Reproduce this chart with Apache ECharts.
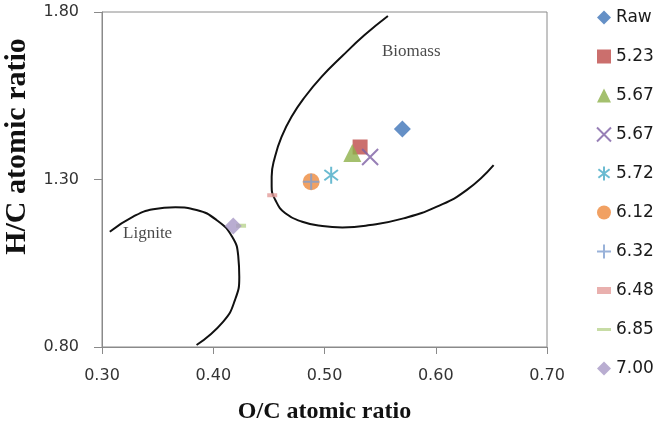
<!DOCTYPE html>
<html>
<head>
<meta charset="utf-8">
<script src="https://cdn.jsdelivr.net/npm/echarts@6/dist/echarts.min.js"></script>
<style>
  html, body { margin: 0; padding: 0; background: #fff; }
  #main { width: 670px; height: 423px; }
</style>
</head>
<body>
<div id="main"></div>
<script>
// sample labels and their [O/C, H/C] points
const sampleNames = ["Raw", "5.23", "5.67", "5.67 ", "5.72", "6.12", "6.32", "6.48", "6.85", "7.00"];
const sampleOC = [0.570, 0.532, 0.525, 0.541, 0.506, 0.488, 0.488, 0.453, 0.425, 0.418];
const sampleHC = [1.451, 1.397, 1.379, 1.367, 1.313, 1.293, 1.293, 1.253, 1.162, 1.161];

// region boundaries (Van Krevelen diagram)
const biomassOC = [0.557, 0.536, 0.5155, 0.4975, 0.4825, 0.4705, 0.4615, 0.4555, 0.4525, 0.4525, 0.4558, 0.4648, 0.480, 0.498, 0.516, 0.541, 0.571, 0.601, 0.628, 0.652];
const biomassHC = [1.788, 1.731, 1.667, 1.607, 1.547, 1.488, 1.428, 1.368, 1.308, 1.279, 1.239, 1.199, 1.174, 1.161, 1.157, 1.164, 1.184, 1.219, 1.269, 1.343];
const ligniteOC = [0.307, 0.328, 0.346, 0.366, 0.385, 0.403, 0.417, 0.4225, 0.4234, 0.4195, 0.409, 0.385];
const ligniteHC = [1.144, 1.189, 1.211, 1.217, 1.209, 1.179, 1.129, 1.070, 1.010, 0.940, 0.876, 0.806];

const regionNames = ["Biomass", "Lignite"];
const regionLabelOC = [0.578, 0.341];
const regionLabelHC = [1.681, 1.140];

const colors = ["#3E74B8", "#BE4B48", "#8DB04A", "#7D5FA4", "#46AAC5", "#EE8A3C", "#7F9FCF", "#E39C9A", "#B9D38F", "#A898C6"];
const symbols = [
  "diamond",
  "rect",
  "triangle",
  "path://M0,0L10,10M10,0L0,10",
  "path://M5,0L5,10M1,2L9,8M9,2L1,8",
  "circle",
  "path://M5,0L5,10M0,5L10,5",
  "rect",
  "rect",
  "diamond"
];
const sizes = [17, 15, 18, 16, 17, 17, 16, [10, 4], [10, 4], 17];
const lineSymbol = [false, false, false, true, true, false, true, false, false, false];
const legendIcons = [
  "diamond", "rect", "triangle",
  "path://M0,0L10,10M10,0L0,10",
  "path://M5,0L5,10M1,2L9,8M9,2L1,8",
  "circle",
  "path://M5,0L5,10M0,5L10,5",
  "path://M0,0h8v4h-8z",
  "path://M0,0h14v3h-14z",
  "diamond"
];

const chart = echarts.init(document.getElementById("main"));

const sampleSeries = sampleNames.map((name, i) => ({
  name: name,
  type: "scatter",
  data: [[sampleOC[i], sampleHC[i]]],
  symbol: symbols[i],
  symbolSize: sizes[i],
  symbolKeepAspect: true,
  itemStyle: lineSymbol[i]
    ? { color: colors[i], borderColor: colors[i], borderWidth: 2 }
    : { color: colors[i] },
  z: 3 + i
}));

const curve = (pts) => ({
  type: "line",
  data: pts,
  smooth: 0.5,
  symbol: "none",
  lineStyle: { color: "#111", width: 2 },
  z: 2
});

const option = {
  animation: false,
  grid: {
    left: 102, right: 123, top: 12, bottom: 76,
    outerBoundsMode: "none",
    show: true, borderColor: "#8a8a8a", borderWidth: 1
  },
  legend: {
    orient: "vertical",
    left: 591,
    top: 4,
    itemWidth: 14,
    itemHeight: 14,
    itemGap: 22,
    data: sampleNames.map((n, i) => ({ name: n, icon: legendIcons[i] })),
    formatter: (n) => n.trim(),
    textStyle: { fontFamily: "DejaVu Sans", fontSize: 17, color: "#1a1a1a" }
  },
  xAxis: {
    type: "value",
    min: 0.3, max: 0.7, interval: 0.1,
    name: "O/C atomic ratio",
    nameLocation: "middle",
    nameGap: 53,
    nameTextStyle: { fontFamily: "Liberation Serif", fontWeight: "bold", fontSize: 24, color: "#111" },
    axisLine: { lineStyle: { color: "#8a8a8a" } },
    axisTick: { show: true, inside: false, length: 7, lineStyle: { color: "#8a8a8a" } },
    axisLabel: { formatter: (v) => v.toFixed(2), fontFamily: "DejaVu Sans", fontSize: 16, color: "#333", margin: 21 },
    splitLine: { show: false }
  },
  yAxis: {
    type: "value",
    min: 0.8, max: 1.8, interval: 0.5,
    name: "H/C atomic ratio",
    nameLocation: "middle",
    nameGap: 69,
    nameTextStyle: { fontFamily: "Liberation Serif", fontWeight: "bold", fontSize: 30, color: "#111", padding: [0, 0, 0, 66] },
    axisLine: { lineStyle: { color: "#8a8a8a" } },
    axisTick: { show: true, inside: false, length: 8, lineStyle: { color: "#8a8a8a" } },
    axisLabel: { formatter: (v) => v.toFixed(2), fontFamily: "DejaVu Sans", fontSize: 16, color: "#333", margin: 23 },
    splitLine: { show: false }
  },
  series: [
    curve(biomassOC.map((x, i) => [x, biomassHC[i]])),
    curve(ligniteOC.map((x, i) => [x, ligniteHC[i]])),
    {
      type: "scatter",
      symbolSize: 0,
      data: regionNames.map((n, i) => ({ name: n, value: [regionLabelOC[i], regionLabelHC[i]] })),
      label: {
        show: true,
        position: "inside",
        formatter: (p) => p.name,
        fontFamily: "Liberation Serif",
        fontSize: 17,
        color: "#1a1a1a"
      },
      silent: true,
      z: 2
    },
    ...sampleSeries
  ]
};

chart.setOption(option);
</script>
</body>
</html>
